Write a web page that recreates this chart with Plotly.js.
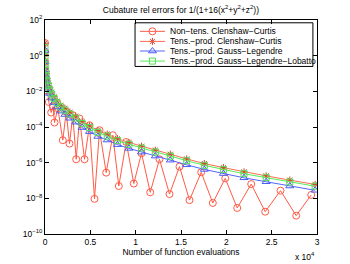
<!DOCTYPE html>
<html><head><meta charset="utf-8">
<script src="https://cdn.plot.ly/plotly-3.0.1.min.js"></script>
<style>html,body{margin:0;padding:0;background:#fff}#c{width:350px;height:264px}</style>
</head><body><div id="c"></div>
<script>
// Tensor-product cubature: number of points n^3, n = 1..31
const tensN = [1,8,27,64,125,216,343,512,729,1000,1331,1728,2197,2744,3375,4096,4913,5832,6859,8000,9261,10648,12167,13824,15625,17576,19683,21952,24389,27000,29791];
// log10 of relative errors
const tensCClog = [0.70,0.05,-0.40,-0.70,-1.00,-1.28,-1.55,-1.80,-2.05,-2.30,-2.55,-2.78,-2.95,-3.17,-3.39,-3.70,-3.93,-4.20,-4.40,-4.66,-4.87,-5.08,-5.30,-5.53,-5.79,-6.05,-6.28,-6.52,-6.74,-6.98,-7.22];
const tensGLlog = [0.30,-0.35,-0.80,-1.10,-1.38,-1.63,-1.88,-2.12,-2.38,-2.63,-2.88,-3.11,-3.30,-3.51,-3.73,-4.03,-4.26,-4.53,-4.73,-4.99,-5.20,-5.41,-5.63,-5.86,-6.12,-6.38,-6.61,-6.85,-7.07,-7.31,-7.55];
const tensGLLlog = [0.45,-0.05,-0.50,-0.82,-1.12,-1.40,-1.66,-1.90,-2.15,-2.40,-2.64,-2.87,-3.05,-3.27,-3.50,-3.80,-4.03,-4.30,-4.51,-4.76,-4.97,-5.18,-5.40,-5.63,-5.89,-6.15,-6.38,-6.62,-6.84,-7.08,-7.32];
// Non-tensor Clenshaw-Curtis
const ntN = [1,7,25,69,140,240,419,684,882,1048,1412,1963,2338,2702,3066,3441,3805,4357,4908,5460,6011,6750,7478,8140,8956,9795,10644,11604,12630,13733,14836,15939,17229,18509,19877,21200,22744,24288,25976,27707,29362];
const ntLog = [0.71,0.22,-0.35,-0.90,-1.40,-1.95,-2.60,-3.19,-2.85,-3.75,-2.95,-4.74,-3.15,-4.93,-3.34,-5.81,-3.52,-5.81,-3.90,-8.03,-4.18,-6.56,-4.46,-7.31,-4.84,-7.17,-5.47,-7.66,-5.81,-7.76,-6.22,-8.10,-6.54,-8.26,-6.88,-8.54,-7.20,-8.75,-7.57,-8.97,-7.81];

const seriesNames = ['Non−tens. Clenshaw−Curtis','Tens.−prod. Clenshaw−Curtis','Tens.−prod. Gauss−Legendre','Tens.−prod. Gauss−Legendre−Lobatto'];
const yTickVals = [1e-10,1e-8,1e-6,1e-4,1e-2,1,1e2];
const yTickText = ['10<sup>−10</sup>','10<sup>−8</sup>','10<sup>−6</sup>','10<sup>−4</sup>','10<sup>−2</sup>','10<sup>0</sup>','10<sup>2</sup>'];
const xTickVals = [0,5000,10000,15000,20000,25000,30000];
const xTickText = ['0','0.5','1','1.5','2','2.5','3'];

const pw = v => v.map(a => Math.pow(10, a));

const styles = [
 {line: {color: '#ff5a45', width: 1}, marker: {symbol: 'circle-open', size: 7, color: '#ff5a45', line: {width: 1}}},
 {line: {color: '#ff6a55', width: 1}, marker: {symbol: 'asterisk-open', size: 6, color: '#d04a30', line: {width: 1, color: '#d04a30'}}},
 {line: {color: '#5565ff', width: 1}, marker: {symbol: 'triangle-up-open', size: 7, color: '#4a5af5', line: {width: 1}}},
 {line: {color: '#55ee55', width: 1}, marker: {symbol: 'square-open', size: 6, color: '#55dd55', line: {width: 1}}}
];
const xs = [ntN, tensN, tensN, tensN];
const ys = [ntLog, tensCClog, tensGLlog, tensGLLlog];

const traces = ys.map((v, i) => Object.assign({x: xs[i], y: pw(v), name: seriesNames[i], mode: 'lines+markers', showlegend: false}, styles[i]));

// hand-built legend (compact, like the reference)
const legX0 = 0.331, legX1 = 0.985, legY0 = 0.783, legY1 = 0.987;
const entryY = [0.947, 0.900, 0.855, 0.808];
const sampleX0 = 0.349, sampleX1 = 0.441, sampleXm = 0.395, textX = 0.452;
const shapes = [{type: 'rect', xref: 'paper', yref: 'paper', x0: legX0, x1: legX1, y0: legY0, y1: legY1,
  line: {color: '#000', width: 1}, fillcolor: '#fff', layer: 'below'}];
const annotations = [];
seriesNames.forEach((nm, i) => {
  shapes.push({type: 'line', xref: 'paper', yref: 'paper', x0: sampleX0, x1: sampleX1, y0: entryY[i], y1: entryY[i], line: styles[i].line});
  annotations.push({text: nm, xref: 'paper', yref: 'paper', x: textX, y: entryY[i], xanchor: 'left', yanchor: 'middle', showarrow: false, font: {size: 8.5}});
  traces.push({x: [sampleXm], y: [entryY[i]], xaxis: 'x2', yaxis: 'y2', mode: 'markers', marker: styles[i].marker, showlegend: false, hoverinfo: 'skip'});
});
annotations.push({text: 'x 10<sup>4</sup>', xref: 'paper', yref: 'paper', x: 1.0, y: -0.105, xanchor: 'right', yanchor: 'middle', showarrow: false, font: {size: 8.5}});

const font = {family: 'Liberation Sans, Arial, sans-serif', size: 8.5, color: '#000'};
const layout = {
 width: 350, height: 264,
 margin: {l: 45, r: 33, t: 20, b: 30},
 paper_bgcolor: '#fff', plot_bgcolor: '#fff',
 font: font,
 showlegend: false,
 title: {text: 'Cubature rel errors for 1/(1+16(x<sup>2</sup>+y<sup>2</sup>+z<sup>2</sup>))', font: {family: font.family, size: 8.5, color: '#000'}, x: 0.517, xanchor: 'center', y: 0.962, yanchor: 'middle'},
 xaxis: {range: [0, 30000], tickvals: xTickVals, ticktext: xTickText, ticks: 'inside', ticklen: 4, tickcolor: '#000',
   showline: true, linecolor: '#000', linewidth: 1, mirror: 'ticks', showgrid: false, zeroline: false,
   title: {text: 'Number of function evaluations', font: {size: 8.5}, standoff: 2}, tickfont: {size: 8.5}},
 yaxis: {type: 'log', range: [-10, 2], tickvals: yTickVals, ticktext: yTickText, ticks: 'inside', ticklen: 4, tickcolor: '#000',
   showline: true, linecolor: '#000', linewidth: 1, mirror: 'ticks', showgrid: false, zeroline: false, tickfont: {size: 8.5}},
 xaxis2: {overlaying: 'x', range: [0, 1], visible: false, anchor: 'y2'},
 yaxis2: {overlaying: 'y', range: [0, 1], visible: false, anchor: 'x2'},
 shapes: shapes,
 annotations: annotations
};
Plotly.newPlot('c', traces, layout, {staticPlot: true, displayModeBar: false});
</script></body></html>
